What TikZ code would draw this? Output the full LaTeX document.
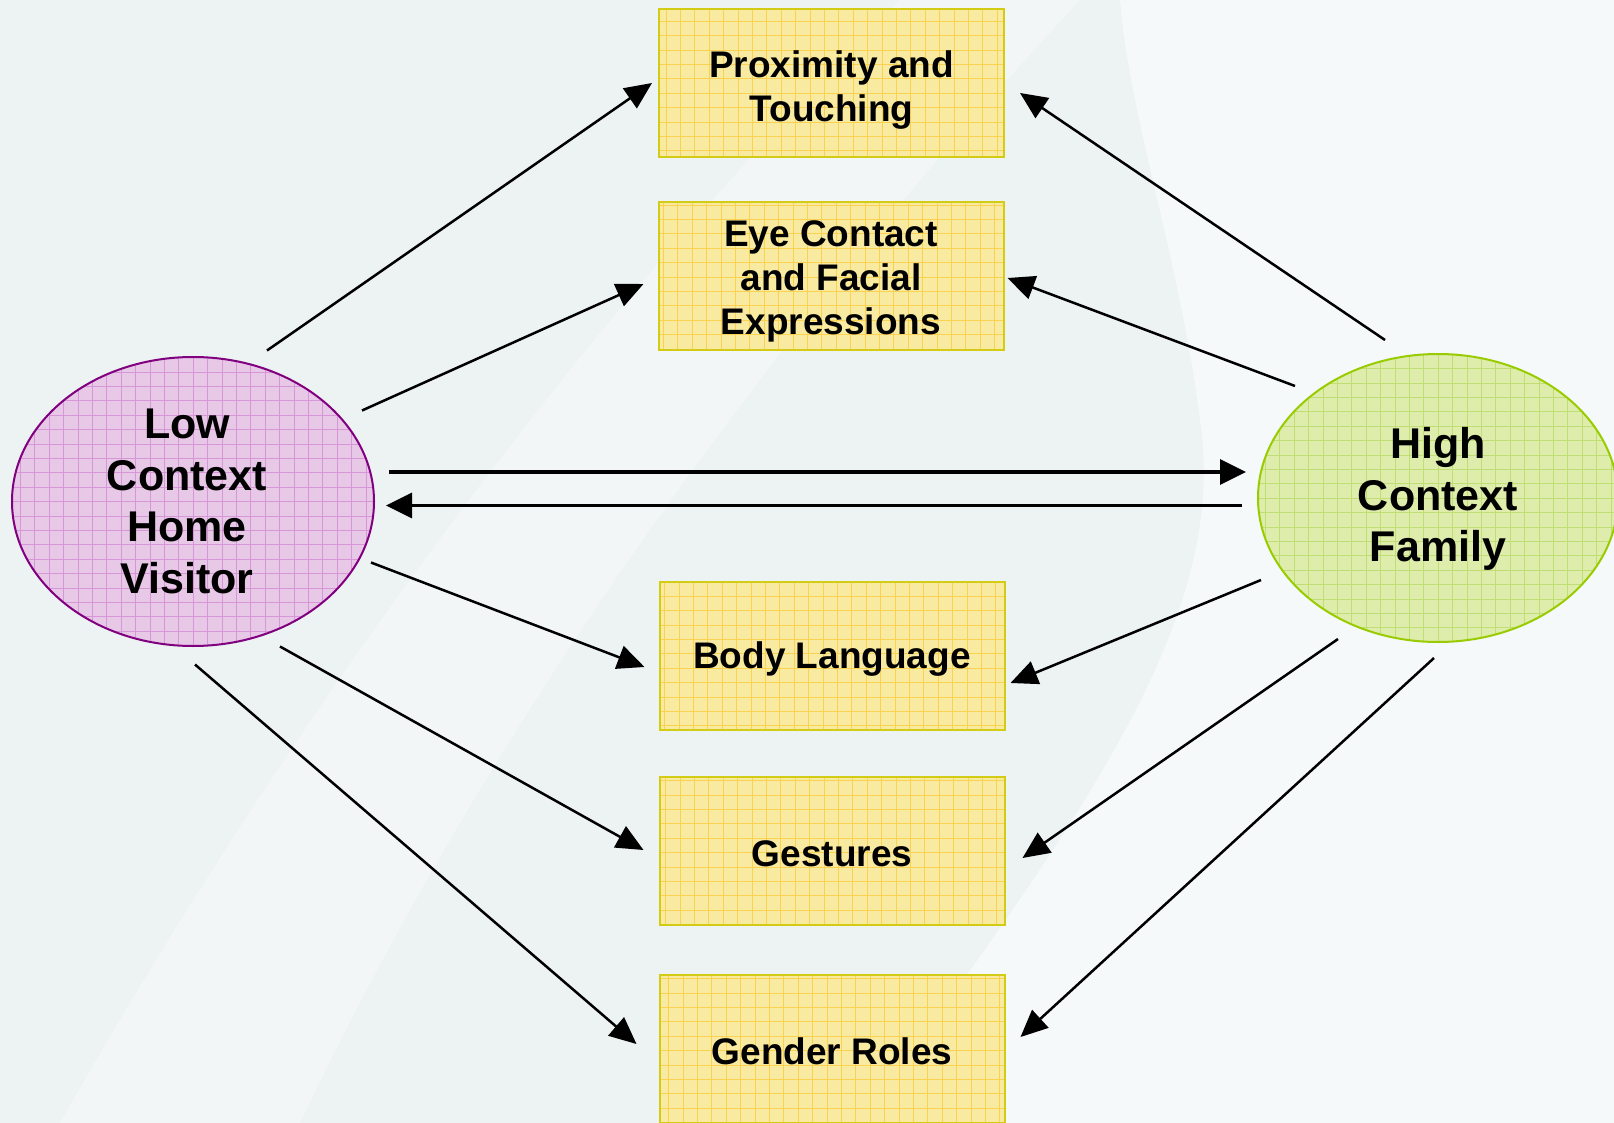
\documentclass[tikz,border=0pt]{standalone}
\usepackage{fontspec}
\setmainfont{Liberation Sans}
\usetikzlibrary{shapes.geometric,arrows.meta}

\definecolor{bgc}{RGB}{237,242,242}
\definecolor{boxfill}{RGB}{248,234,160}
\definecolor{boxgrid}{RGB}{250,210,80}
\definecolor{boxedge}{RGB}{212,204,20}
\definecolor{lcfill}{RGB}{231,200,231}
\definecolor{lcgrid}{RGB}{215,150,215}
\definecolor{lcedge}{RGB}{128,0,128}
\definecolor{hcfill}{RGB}{222,236,172}
\definecolor{hcgrid}{RGB}{192,222,115}
\definecolor{hcedge}{RGB}{153,204,0}

\begin{document}
\begin{tikzpicture}[x=1pt,y=-1pt,
  topicbox/.style={draw=boxedge, line width=2pt, fill=boxfill,
    minimum width=345pt, minimum height=148pt, inner sep=0pt, align=center,
    font=\bfseries\fontsize{37}{44}\selectfont,
    path picture={\draw[boxgrid, line width=0.6pt]
      (path picture bounding box.south west) grid[step=14.4pt]
      (path picture bounding box.north east);}},
  ctxell/.style={ellipse, line width=2pt, inner sep=0pt},
  ctxtext/.style={align=center, inner sep=0pt,
    font=\bfseries\fontsize{43}{51.5}\selectfont},
  lowctx/.style={ctxell, draw=lcedge, fill=lcfill,
    minimum width=362pt, minimum height=289pt,
    path picture={\draw[lcgrid, line width=0.6pt]
      (path picture bounding box.south west) grid[step=14.4pt]
      (path picture bounding box.north east);}},
  highctx/.style={ctxell, draw=hcedge, fill=hcfill,
    minimum width=360pt, minimum height=288pt,
    path picture={\draw[hcgrid, line width=0.6pt]
      (path picture bounding box.south west) grid[step=14.4pt]
      (path picture bounding box.north east);}},
  conn/.style={line width=2.5pt, -{Triangle[length=27pt,width=24pt]}},
  hconn/.style={line width=3.4pt, -{Triangle[length=26pt,width=25pt]}}
]
\useasboundingbox (0,0) rectangle (1614,1123);
\clip (0,0) rectangle (1614,1123);
\fill[bgc] (0,0) rectangle (1614,1123);
% faint watermark
\fill[white, opacity=0.55] (1120,0) -- (1614,0) -- (1614,1123) -- (860,1123)
  .. controls (1080,820) and (1230,620) .. (1200,420)
  .. controls (1180,260) and (1130,120) .. (1120,0) -- cycle;
\fill[white, opacity=0.35] (60,1123) .. controls (300,700) and (600,300) .. (900,0)
  -- (1080,0) .. controls (800,300) and (500,700) .. (300,1123) -- cycle;

% nodes
\node[topicbox] (b1) at (831.5,83) {\rule{0pt}{41.5pt}Proximity and\\Touching};
\node[topicbox] (b2) at (831,276) {\rule{0pt}{36.5pt}Eye Contact\\and Facial\\Expressions};
\node[topicbox] (b3) at (832,655.5) {\rule{0pt}{33pt}Body Language};
\node[topicbox] (b4) at (832,851) {\rule{0pt}{32pt}Gestures};
\node[topicbox] (b5) at (832,1049) {\rule{0pt}{32pt}Gender Roles};

\node[lowctx] (lc) at (193,501.5) {};
\node[ctxtext] (lct) at ([xshift=-6]lc.center) {Low\\Context\\Home\\Visitor};
\node[highctx] (hc) at (1438,498) {};
\node[ctxtext] (hct) at ([yshift=-1]hc.center) {High\\Context\\Family};

% connectors from low context visitor
\draw[conn] ([shift={(74,-151)}]lc.center) -- ([shift={(-6,0)}]b1.west);
\draw[conn] ([shift={(169,-91)}]lc.center) -- ([shift={(-14,8)}]b2.west);
\draw[conn] ([shift={(178,61)}]lc.center) -- ([shift={(-14,11.5)}]b3.west);
\draw[conn] ([shift={(87,145)}]lc.center) -- ([shift={(-15,-1)}]b4.west);
\draw[conn] ([shift={(2,163)}]lc.center) -- ([shift={(-22,-5)}]b5.west);

% horizontal pair
\draw[hconn] ([shift={(196,-29.5)}]lc.center) -- ([shift={(-192,-26)}]hc.center);
\draw[hconn] ([shift={(-196,7.5)}]hc.center) -- ([shift={(193,4)}]lc.center);

% connectors from high context family
\draw[conn] ([shift={(-53,-158)}]hc.center) -- ([shift={(15,10)}]b1.east);
\draw[conn] ([shift={(-143,-112)}]hc.center) -- ([shift={(3,2)}]b2.east);
\draw[conn] ([shift={(-177,82)}]hc.center) -- ([shift={(5,27.5)}]b3.east);
\draw[conn] ([shift={(-100,141)}]hc.center) -- ([shift={(17,7)}]b4.east);
\draw[conn] ([shift={(-4,160)}]hc.center) -- ([shift={(15,-12)}]b5.east);
\end{tikzpicture}
\end{document}
